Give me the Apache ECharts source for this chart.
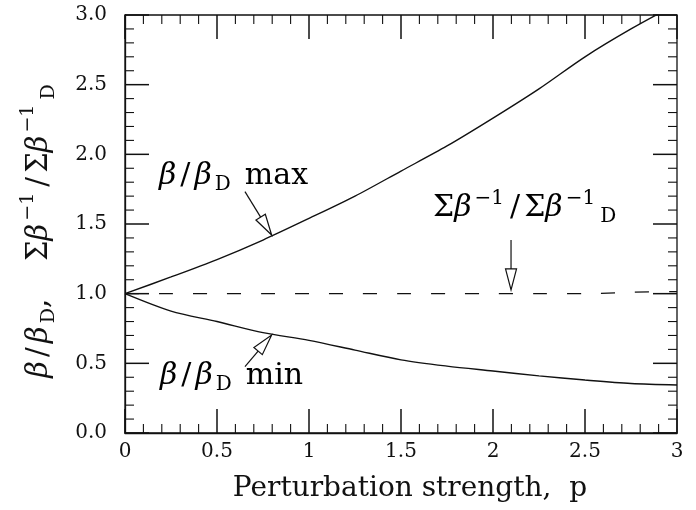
<!DOCTYPE html>
<html>
<head>
<meta charset="utf-8">
<script src="https://cdn.jsdelivr.net/npm/echarts@6/dist/echarts.min.js"></script>
<style>
html,body{margin:0;padding:0;background:#fff;}
#chart{width:696px;height:510px;}
</style>
</head>
<body>
<div id="chart"></div>
<script>
// ---- data ----
const pVals   = [0, 0.25, 0.5, 0.75, 1.0, 1.25, 1.5, 1.75, 2.0, 2.25, 2.5, 2.75, 3.0];
const maxVals = [1.0, 1.12, 1.245, 1.385, 1.54, 1.70, 1.88, 2.06, 2.26, 2.47, 2.70, 2.90, 3.08];
const minVals = [1.0, 0.875, 0.80, 0.72, 0.665, 0.595, 0.525, 0.48, 0.445, 0.41, 0.38, 0.355, 0.345];
const sumVals = [1.0, 1.0, 1.0, 1.0, 1.0, 1.0, 1.0, 1.0, 1.0, 1.0, 1.0, 1.01, 1.015];

const xTicks = [0, 0.5, 1, 1.5, 2, 2.5, 3];
const xTickLabels = ['0', '0.5', '1', '1.5', '2', '2.5', '3'];
const yTicks = [0, 0.5, 1, 1.5, 2, 2.5, 3];
const yTickLabels = ['0.0', '0.5', '1.0', '1.5', '2.0', '2.5', '3.0'];
const minorStep = 0.1;

// annotation arrows (data coordinates: tail -> tip)
const arrowTails = [[0.652, 1.732], [0.652, 0.476], [2.098, 1.385]];
const arrowTips  = [[0.797, 1.421], [0.797, 0.703], [2.098, 1.027]];

const SERIF = '"DejaVu Serif", "Liberation Serif", serif';
const INK = '#111111';

function pairs(xs, ys) { return xs.map((x, i) => [x, ys[i]]); }
function fmt(ticks, labels) {
  return v => { const i = ticks.findIndex(t => Math.abs(t - v) < 1e-6); return i >= 0 ? labels[i] : ''; };
}

function richStyles(fs, lh, gap) {
  const s = Math.round(fs * 0.66);
  return {
    b:   { fontFamily: SERIF, fontStyle: 'italic', fontSize: fs, lineHeight: lh, color: INK },
    n:   { fontFamily: SERIF, fontSize: fs, lineHeight: lh, color: INK },
    sl:  { fontFamily: SERIF, fontSize: fs, lineHeight: lh, color: INK, padding: [0, 4, 0, 4] },
    w:   { fontFamily: SERIF, fontSize: fs, lineHeight: lh, color: INK, padding: [0, 0, 0, gap] },
    sub: { fontFamily: SERIF, fontSize: s, lineHeight: 10, verticalAlign: 'bottom', color: INK, padding: [0, 0, 0, 3] },
    sup: { fontFamily: SERIF, fontSize: s, lineHeight: 22, verticalAlign: 'top', color: INK, padding: [0, 2, 0, 3] }
  };
}

const chart = echarts.init(document.getElementById('chart'), null, { renderer: 'canvas' });

const option = {
  animation: false,
  backgroundColor: '#fff',
  grid: { left: 125, right: 19, top: 15, bottom: 77, containLabel: false,
          show: true, borderColor: INK, borderWidth: 1.3, backgroundColor: 'transparent' },
  xAxis: {
    type: 'value', min: 0, max: 3, interval: 0.5,
    axisLine: { show: true, onZero: false, lineStyle: { color: INK, width: 1.3 } },
    axisTick: { show: false }, minorTick: { show: false }, splitLine: { show: false },
    axisLabel: { color: INK, fontFamily: SERIF, fontSize: 20, margin: 9, formatter: fmt(xTicks, xTickLabels) },
    name: 'Perturbation strength,  p',
    nameLocation: 'middle', nameGap: 42,
    nameTextStyle: { fontFamily: SERIF, fontSize: 28, color: INK, padding: [0, 0, 0, 18] }
  },
  yAxis: {
    type: 'value', min: 0, max: 3, interval: 0.5,
    axisLine: { show: true, onZero: false, lineStyle: { color: INK, width: 1.3 } },
    axisTick: { show: false }, minorTick: { show: false }, splitLine: { show: false },
    axisLabel: { color: INK, fontFamily: SERIF, fontSize: 20, margin: 18, formatter: fmt(yTicks, yTickLabels) },
    name: '{b|β}{sl|/}{b|β}{sub|D}{n|,}{w|Σ}{b|β}{sup|−1}{sl|/}{n|Σ}{b|β}{sup|−1}{sub|D}',
    nameLocation: 'middle', nameRotate: 90, nameGap: 66,
    nameTextStyle: { rich: richStyles(29, 40, 38), padding: [0, 14, 0, 0] }
  },
  series: [
    { type: 'line', name: 'max', data: pairs(pVals, maxVals), smooth: 0.3, showSymbol: false,
      lineStyle: { color: INK, width: 1.4 } },
    { type: 'line', name: 'min', data: pairs(pVals, minVals), smooth: 0.3, showSymbol: false,
      lineStyle: { color: INK, width: 1.4 } },
    { type: 'line', name: 'sum', data: pairs(pVals, sumVals), smooth: 0.3, showSymbol: false,
      lineStyle: { color: INK, width: 1.2, type: [14, 20] } }
  ]
};
chart.setOption(option);

// ---- ticks (inside, on all four sides), drawn as thin filled rects ----
const graphics = [];
const MAJ = 24, MIN = 9;
function isMajor(v) { return xTicks.some(t => Math.abs(t - v) < 1e-6); }
function bar(x, y, w, h) {
  graphics.push({ type: 'rect', z: 50, silent: true,
    shape: { x: x, y: y, width: w, height: h }, style: { fill: INK, stroke: null } });
}
for (let k = 0; k <= 30; k++) {
  const v = Math.round(k * minorStep * 10) / 10;
  const major = isMajor(v);
  const L = major ? MAJ : MIN;
  const w = major ? 1.5 : 1.1;
  const bot = chart.convertToPixel({ gridIndex: 0 }, [v, 0]);
  const top = chart.convertToPixel({ gridIndex: 0 }, [v, 3]);
  bar(bot[0] - w / 2, bot[1] - L, w, L);
  bar(top[0] - w / 2, top[1], w, L);
  const lft = chart.convertToPixel({ gridIndex: 0 }, [0, v]);
  const rgt = chart.convertToPixel({ gridIndex: 0 }, [3, v]);
  bar(lft[0], lft[1] - w / 2, L, w);
  bar(rgt[0] - L, rgt[1] - w / 2, L, w);
}

// ---- annotations ----
const rich = richStyles(30, 38, 14);
graphics.push(
  { type: 'text', x: 159, y: 157, z: 10,
    style: { text: '{b|β}{sl|/}{b|β}{sub|D}{w|max}', rich: rich } },
  { type: 'text', x: 160, y: 357, z: 10,
    style: { text: '{b|β}{sl|/}{b|β}{sub|D}{w|min}', rich: rich } },
  { type: 'text', x: 433, y: 189, z: 10,
    style: { text: '{n|Σ}{b|β}{sup|−1}{sl|/}{n|Σ}{b|β}{sup|−1}{sub|D}', rich: rich } }
);

const HEAD_L = 21, HEAD_W = 11;
arrowTails.forEach((tail, i) => {
  const a = chart.convertToPixel({ gridIndex: 0 }, tail);
  const b = chart.convertToPixel({ gridIndex: 0 }, arrowTips[i]);
  const dx = b[0] - a[0], dy = b[1] - a[1];
  const len = Math.hypot(dx, dy);
  const ux = dx / len, uy = dy / len;
  const bx = b[0] - ux * HEAD_L, by = b[1] - uy * HEAD_L;
  const nx = -uy, ny = ux;
  graphics.push({ type: 'line', z: 10,
    shape: { x1: a[0], y1: a[1], x2: bx, y2: by },
    style: { stroke: INK, lineWidth: 1.2 } });
  graphics.push({ type: 'polygon', z: 10,
    shape: { points: [[b[0], b[1]], [bx + nx * HEAD_W / 2, by + ny * HEAD_W / 2], [bx - nx * HEAD_W / 2, by - ny * HEAD_W / 2]] },
    style: { fill: '#fff', stroke: INK, lineWidth: 1.2 } });
});
chart.setOption({ graphic: graphics });
</script>
</body>
</html>
